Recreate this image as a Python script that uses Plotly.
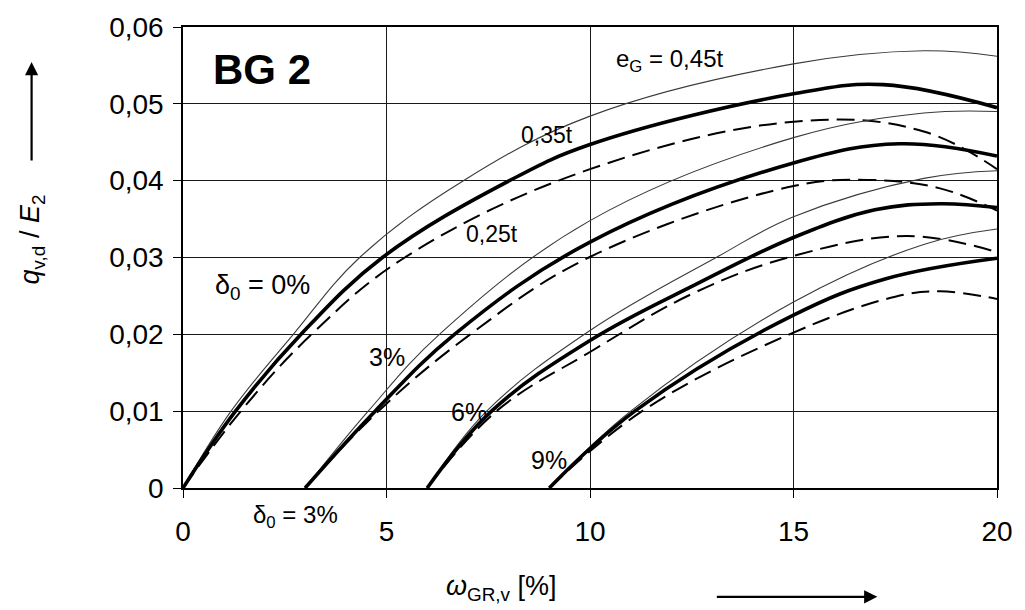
import plotly.graph_objects as go

# ---- data: q_v,d / E_2 against omega_GR,v [%] ----
# delta_0 = 0 %
x_d0_045 = [0, 1.18, 2.71, 4.34, 6.89, 10, 15, 18.2, 20]
y_d0_045 = [0, 0.010, 0.020, 0.030, 0.040, 0.0484, 0.0552, 0.0569, 0.0562]
x_d0_035 = [0, 1.29, 2.9, 4.9, 8.02, 10, 15, 17.2, 20]
y_d0_035 = [0, 0.010, 0.020, 0.030, 0.040, 0.0447, 0.0513, 0.0525, 0.0495]
x_d0_025 = [0, 1.42, 3.16, 5.45, 10, 15.3, 18.2, 20]
y_d0_025 = [0, 0.010, 0.020, 0.030, 0.0415, 0.0478, 0.0464, 0.0415]

# delta_0 = 3 %
x_d3_045 = [3, 4.55, 6.3, 10, 15, 18.2, 20]
y_d3_045 = [0, 0.010, 0.020, 0.0348, 0.0456, 0.0488, 0.0490]
x_d3_035 = [3, 4.72, 6.67, 10, 15, 17.6, 20]
y_d3_035 = [0, 0.010, 0.020, 0.0320, 0.0423, 0.0448, 0.0432]
x_d3_025 = [3, 4.8, 7.06, 9.97, 15, 16.8, 18.6, 20]
y_d3_025 = [0, 0.010, 0.020, 0.030, 0.0393, 0.0401, 0.0390, 0.0361]

# delta_0 = 6 %
x_d6_045 = [6, 7.46, 10, 13.1, 15, 18.2, 20]
y_d6_045 = [0, 0.010, 0.0205, 0.030, 0.0353, 0.0403, 0.0413]
x_d6_035 = [6, 7.58, 10, 12.6, 15, 17.0, 18.6, 20]
y_d6_035 = [0, 0.010, 0.0192, 0.0265, 0.0326, 0.0362, 0.0370, 0.0365]
x_d6_025 = [6, 7.7, 10, 12.6, 15, 17.8, 20]
y_d6_025 = [0, 0.010, 0.0177, 0.0255, 0.0302, 0.0328, 0.0307]

# delta_0 = 9 %
x_d9_045 = [9, 11.0, 15, 18.2, 20]
y_d9_045 = [0, 0.010, 0.0242, 0.0317, 0.0337]
x_d9_035 = [9, 11.1, 15, 17.25, 20]
y_d9_035 = [0, 0.010, 0.0225, 0.0272, 0.0299]
x_d9_025 = [9, 11.28, 14.9, 17.5, 18.6, 20]
y_d9_025 = [0, 0.010, 0.020, 0.0249, 0.0256, 0.0246]

x_ticks = [0, 5, 10, 15, 20]
y_ticks = [0, 0.01, 0.02, 0.03, 0.04, 0.05, 0.06]
y_tick_text = ["0", "0,01", "0,02", "0,03", "0,04", "0,05", "0,06"]

FONT = "Liberation Sans, Arial, sans-serif"

# line styles per eccentricity e_G
styles = {
    "0,45t": dict(color="#3a3a3a", width=1.1),
    "0,35t": dict(color="black", width=3.6),
    "0,25t": dict(color="black", width=2.0, dash="18px,8px"),
}

curves = [
    (x_d0_045, y_d0_045, "0,45t"), (x_d0_035, y_d0_035, "0,35t"), (x_d0_025, y_d0_025, "0,25t"),
    (x_d3_045, y_d3_045, "0,45t"), (x_d3_035, y_d3_035, "0,35t"), (x_d3_025, y_d3_025, "0,25t"),
    (x_d6_045, y_d6_045, "0,45t"), (x_d6_035, y_d6_035, "0,35t"), (x_d6_025, y_d6_025, "0,25t"),
    (x_d9_045, y_d9_045, "0,45t"), (x_d9_035, y_d9_035, "0,35t"), (x_d9_025, y_d9_025, "0,25t"),
]

fig = go.Figure()
for xs, ys, key in curves:
    fig.add_trace(go.Scatter(
        x=xs, y=ys, mode="lines", showlegend=False, hoverinfo="skip",
        line=dict(shape="spline", smoothing=1.1, **styles[key]),
    ))

axis_common = dict(
    showline=True, mirror=True, linecolor="black", linewidth=1.5,
    showgrid=True, gridcolor="#1a1a1a", gridwidth=1.2,
    ticks="outside", ticklen=8, tickcolor="black", tickwidth=1.2,
    zeroline=False, tickfont=dict(family=FONT, size=28, color="black"),
)
fig.update_xaxes(range=[0, 20], tickvals=x_ticks, ticklabelstandoff=10, **axis_common)
fig.update_yaxes(range=[0, 0.06], tickvals=y_ticks, ticktext=y_tick_text,
                 ticklabelstandoff=4, **axis_common)

txt = dict(family=FONT, color="black")
ann = [
    dict(x=1.93, y=0.0545, text="<b>BG 2</b>", font=dict(size=42, **txt), xanchor="center"),
    dict(x=10.6, y=0.0557, text="e<sub>G</sub> = 0,45t", font=dict(size=24, **txt), xanchor="left"),
    dict(x=8.94, y=0.0459, text="0,35t", font=dict(size=23, **txt)),
    dict(x=7.60, y=0.0331, text="0,25t", font=dict(size=23, **txt)),
    dict(x=0.74, y=0.0262, text="δ<sub>0</sub> = 0%", font=dict(size=27, **txt), xanchor="left"),
    dict(x=5.02, y=0.0170, text="3%", font=dict(size=25, **txt)),
    dict(x=7.02, y=0.0099, text="6%", font=dict(size=25, **txt)),
    dict(x=8.99, y=0.0037, text="9%", font=dict(size=25, **txt)),
]
for a in ann:
    fig.add_annotation(showarrow=False, xref="x", yref="y", **a)

# label below the axis for the 3 % family
fig.add_annotation(xref="paper", yref="paper", x=0.138, y=-0.062,
                   text="δ<sub>0</sub> = 3%", showarrow=False,
                   xanchor="center", yanchor="middle", font=dict(size=24, **txt))

# axis titles with direction arrows
fig.add_annotation(xref="paper", yref="paper", x=0.391, y=-0.218,
                   text="<i>ω</i><sub>GR,v</sub> [%]", showarrow=False,
                   xanchor="center", yanchor="middle", font=dict(size=27, **txt))
fig.add_annotation(xref="paper", yref="paper", x=0.853, y=-0.236, text="",
                   showarrow=True, ax=-162, ay=0, arrowhead=2, arrowsize=1.2,
                   arrowwidth=2.2, arrowcolor="black")
fig.add_annotation(xref="paper", yref="paper", x=-0.185, y=0.54,
                   text="<i>q</i><sub>v,d</sub> / <i>E</i><sub>2</sub>", textangle=-90,
                   showarrow=False, xanchor="center", yanchor="middle",
                   font=dict(size=27, **txt))
fig.add_annotation(xref="paper", yref="paper", x=-0.186, y=0.924, text="",
                   showarrow=True, ax=0, ay=100, arrowhead=2, arrowsize=1.2,
                   arrowwidth=2.2, arrowcolor="black")

fig.update_layout(
    width=1025, height=610,
    margin=dict(l=183, r=19, t=25, b=122),
    paper_bgcolor="white", plot_bgcolor="white",
    font=dict(family=FONT, color="black"),
)

fig.write_html("out.html")
